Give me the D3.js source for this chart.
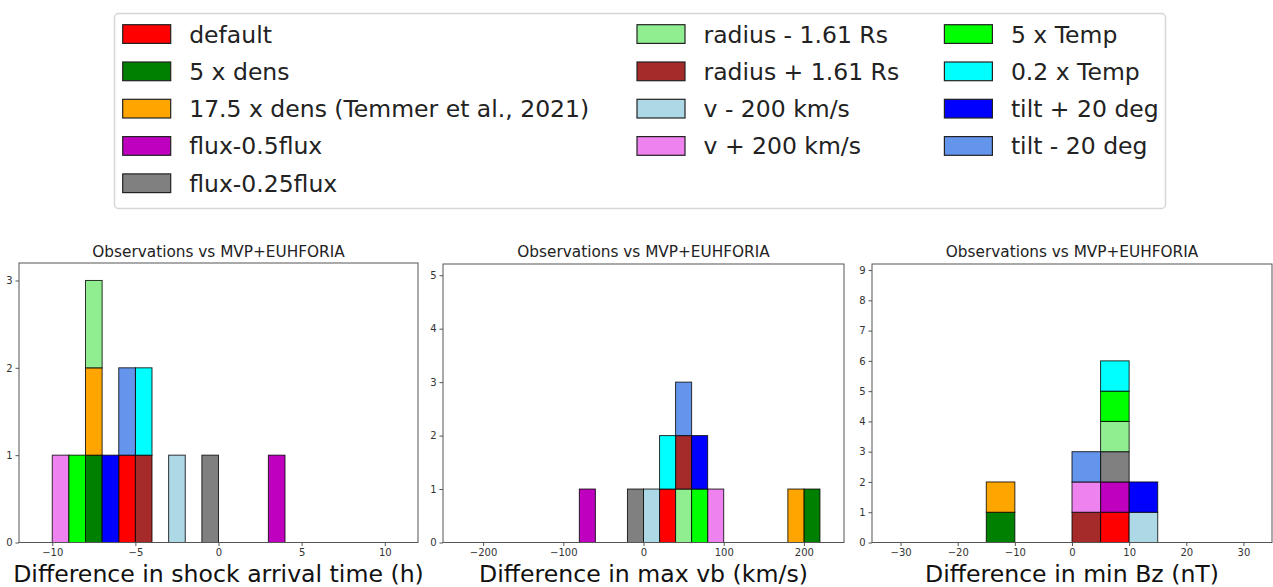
<!DOCTYPE html>
<html>
<head>
<meta charset="utf-8">
<script src="https://cdn.jsdelivr.net/npm/d3@7"></script>
<style>
  body { margin: 0; background: #fff; }
  svg { display: block; font-family: "DejaVu Sans", sans-serif; }
</style>
</head>
<body>
<div id="chart"></div>
<script>
// runs, in stacking order
var runNames = ["default", "5 x dens", "17.5 x dens (Temmer et al., 2021)", "flux-0.5flux", "flux-0.25flux",
  "radius - 1.61 Rs", "radius + 1.61 Rs", "v - 200 km/s", "v + 200 km/s",
  "5 x Temp", "0.2 x Temp", "tilt + 20 deg", "tilt - 20 deg"];
var runColors = ["#ff0000", "#008000", "#ffa500", "#bf00bf", "#808080",
  "#90ee90", "#a52a2a", "#add8e6", "#ee82ee",
  "#00ff00", "#00ffff", "#0000ff", "#6495ed"];

var arrivalDiff = [-5.5, -7.5, -7.5, 3.5, -0.5, -7.5, -4.5, -2.5, -9.5, -8.5, -4.5, -6.5, -5.5];
var vbDiff = [30, 210, 190, -70, -10, 50, 50, 10, 90, 70, 30, 70, 50];
var bzDiff = [7.5, -12.5, -12.5, 7.5, 7.5, 7.5, 2.5, 12.5, 2.5, 7.5, 7.5, 12.5, 2.5];

var arrivalTicks = [-10, -5, 0, 5, 10];
var vbTicks = [-200, -100, 0, 100, 200];
var bzTicks = [-30, -20, -10, 0, 10, 20, 30];

var panels = [
  { vals: arrivalDiff, bins: [-10, 10, 1], xdom: [-12, 12], ymax: 3.2, yticks: 3, xticks: arrivalTicks,
    label: "Difference in shock arrival time (h)", x0: 19, x1: 418, y0: 263 },
  { vals: vbDiff, bins: [-220, 220, 20], xdom: [-250, 250], ymax: 5.21, yticks: 5, xticks: vbTicks,
    label: "Difference in max vb (km/s)", x0: 443, x1: 844, y0: 264 },
  { vals: bzDiff, bins: [-35, 35, 5], xdom: [-35, 35], ymax: 9.2, yticks: 9, xticks: bzTicks,
    label: "Difference in min Bz (nT)", x0: 872, x1: 1272, y0: 264 }
];

var W = 1273, H = 587, axBottom = 542.5;
var svg = d3.select("#chart").append("svg").attr("width", W).attr("height", H);

panels.forEach(function(p) {
  var x = d3.scaleLinear().domain(p.xdom).range([p.x0, p.x1]);
  var y = d3.scaleLinear().domain([0, p.ymax]).range([axBottom, p.y0]);
  var edges = d3.range(p.bins[0], p.bins[1] + p.bins[2] / 2, p.bins[2]);
  var binner = d3.bin().domain([p.bins[0], p.bins[1]]).thresholds(edges.slice(1, -1));

  var g = svg.append("g");
  // stacked histogram, every run draws every bin like matplotlib does
  var base = edges.slice(0, -1).map(function() { return 0; });
  p.vals.forEach(function(v, i) {
    var counts = binner([v]).map(function(b) { return b.length; });
    counts.forEach(function(c, j) {
      g.append("rect")
        .attr("x", x(edges[j]))
        .attr("width", x(edges[j + 1]) - x(edges[j]))
        .attr("y", y(base[j] + c))
        .attr("height", y(base[j]) - y(base[j] + c))
        .attr("fill", runColors[i])
        .attr("stroke", "rgba(0,0,0,0.8)")
        .attr("stroke-width", 1);
      base[j] += c;
    });
  });

  g.append("rect").attr("x", p.x0).attr("y", p.y0).attr("width", p.x1 - p.x0).attr("height", axBottom - p.y0)
    .attr("fill", "none").attr("stroke", "#555").attr("stroke-width", 1);

  var xa = svg.append("g").attr("transform", "translate(0," + axBottom + ")")
    .call(d3.axisBottom(x).tickValues(p.xticks).tickSize(3.5).tickPadding(3).tickFormat(d3.format("d")));
  var ya = svg.append("g").attr("transform", "translate(" + p.x0 + ",0)")
    .call(d3.axisLeft(y).tickValues(d3.range(0, p.yticks + 1)).tickSize(3.5).tickPadding(3).tickFormat(d3.format("d")));
  [xa, ya].forEach(function(a) {
    a.select(".domain").remove();
    a.selectAll("line").attr("stroke", "#555");
    a.selectAll("text").attr("fill", "#333").style("font-size", "10px").style("font-family", "DejaVu Sans");
  });

  svg.append("text").attr("x", (p.x0 + p.x1) / 2).attr("y", 257).attr("text-anchor", "middle")
    .style("font-size", "15.3px").attr("fill", "#222").text("Observations vs MVP+EUHFORIA");
  svg.append("text").attr("x", (p.x0 + p.x1) / 2).attr("y", 581.5).attr("text-anchor", "middle")
    .style("font-size", "23.6px").attr("fill", "#111").text(p.label);
});

// legend
var leg = svg.append("g");
leg.append("rect").attr("x", 114.5).attr("y", 13.5).attr("width", 1051).attr("height", 195).attr("rx", 4)
  .attr("fill", "#fff").attr("stroke", "#d6d6d6").attr("stroke-width", 1.5);
var colX = [122.7, 637, 944.4];
var colRows = [5, 4, 4];
var k = 0;
colRows.forEach(function(n, c) {
  for (var r = 0; r < n; r++, k++) {
    var cy = 34 + r * 37.3;
    leg.append("rect").attr("x", colX[c]).attr("y", cy - 9.3).attr("width", 48).attr("height", 18.7)
      .attr("fill", runColors[k]).attr("stroke", "#222").attr("stroke-width", 1.2);
    leg.append("text").attr("x", colX[c] + 66.5).attr("y", cy + 8.5)
      .style("font-size", "23.5px").attr("fill", "#222").text(runNames[k]);
  }
});
</script>
</body>
</html>
